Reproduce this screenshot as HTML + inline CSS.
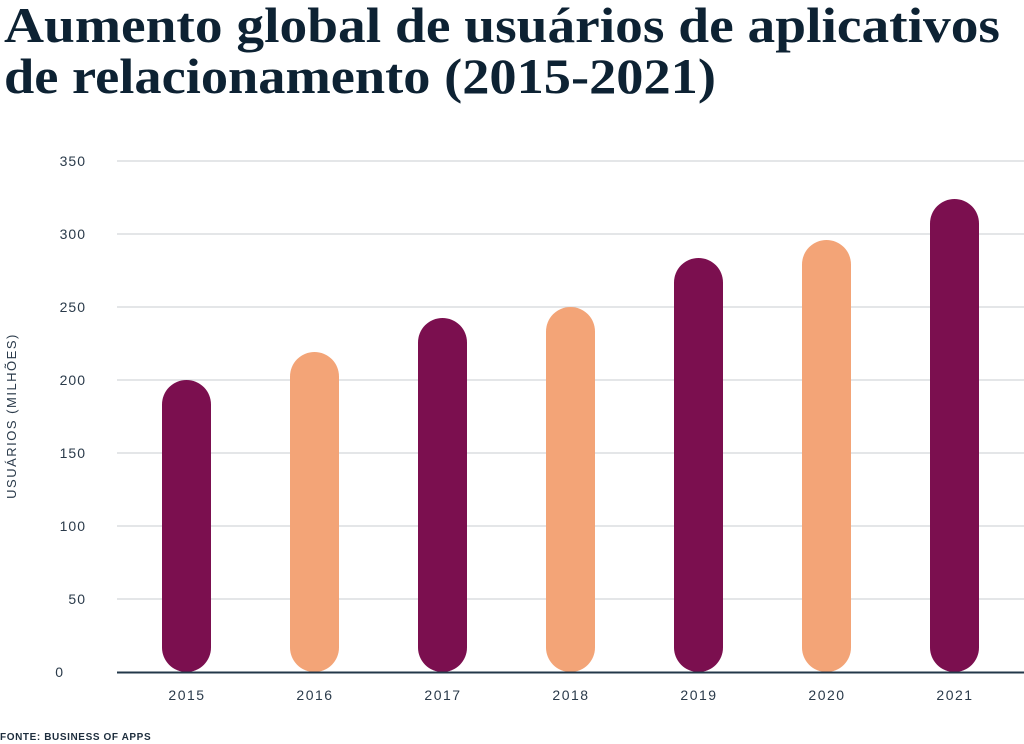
<!DOCTYPE html>
<html><head><meta charset="utf-8"><style>
body{margin:0;background:#fff;width:1024px;height:744px;overflow:hidden}
svg{display:block}
</style></head><body>
<svg width="1024" height="744" xmlns="http://www.w3.org/2000/svg">
<text x="4" y="42" font-family="Liberation Serif, serif" font-size="50" font-weight="bold" fill="#0d2233" textLength="996" lengthAdjust="spacingAndGlyphs">Aumento global de usuários de aplicativos</text>
<text x="4" y="93" font-family="Liberation Serif, serif" font-size="50" font-weight="bold" fill="#0d2233" textLength="712" lengthAdjust="spacingAndGlyphs">de relacionamento (2015-2021)</text>
<g stroke="#c8ccd2" stroke-width="1">
<line x1="117" x2="1024" y1="161" y2="161"/><line x1="117" x2="1024" y1="234" y2="234"/>
<line x1="117" x2="1024" y1="307" y2="307"/><line x1="117" x2="1024" y1="380" y2="380"/>
<line x1="117" x2="1024" y1="453" y2="453"/><line x1="117" x2="1024" y1="526" y2="526"/>
<line x1="117" x2="1024" y1="599" y2="599"/>
</g>
<g font-family="Liberation Sans, sans-serif" font-size="14" fill="#2a3a4a" text-anchor="end" letter-spacing="1">
<text x="86" y="166">350</text><text x="86" y="239">300</text><text x="86" y="312">250</text>
<text x="86" y="385">200</text><text x="86" y="458">150</text><text x="86" y="531">100</text>
<text x="86" y="604">50</text><text x="64" y="677">0</text>
</g>
<text transform="translate(16,416) rotate(-90)" text-anchor="middle" font-family="Liberation Sans, sans-serif" font-size="13" fill="#2a3a4a" letter-spacing="1.5">USUÁRIOS (MILHÕES)</text>
<g>
<rect x="162" y="380" width="49" height="292" rx="24.5" fill="#7b0f4f"/>
<rect x="290" y="352" width="49" height="320" rx="24.5" fill="#f3a477"/>
<rect x="418" y="318" width="49" height="354" rx="24.5" fill="#7b0f4f"/>
<rect x="546" y="307" width="49" height="365" rx="24.5" fill="#f3a477"/>
<rect x="674" y="258" width="49" height="414" rx="24.5" fill="#7b0f4f"/>
<rect x="802" y="240" width="49" height="432" rx="24.5" fill="#f3a477"/>
<rect x="930" y="199" width="49" height="473" rx="24.5" fill="#7b0f4f"/>
</g>
<line x1="117" x2="1024" y1="672.5" y2="672.5" stroke="#23384a" stroke-width="2"/>
<g font-family="Liberation Sans, sans-serif" font-size="14" fill="#2a3a4a" text-anchor="middle" letter-spacing="1.5">
<text x="187" y="700">2015</text><text x="315" y="700">2016</text><text x="443" y="700">2017</text>
<text x="571" y="700">2018</text><text x="699" y="700">2019</text><text x="827" y="700">2020</text>
<text x="955" y="700">2021</text>
</g>
<text x="0" y="740" font-family="Liberation Sans, sans-serif" font-size="10" font-weight="bold" fill="#1d2d3d" letter-spacing="0.6">FONTE: BUSINESS OF APPS</text>
</svg>
</body></html>
